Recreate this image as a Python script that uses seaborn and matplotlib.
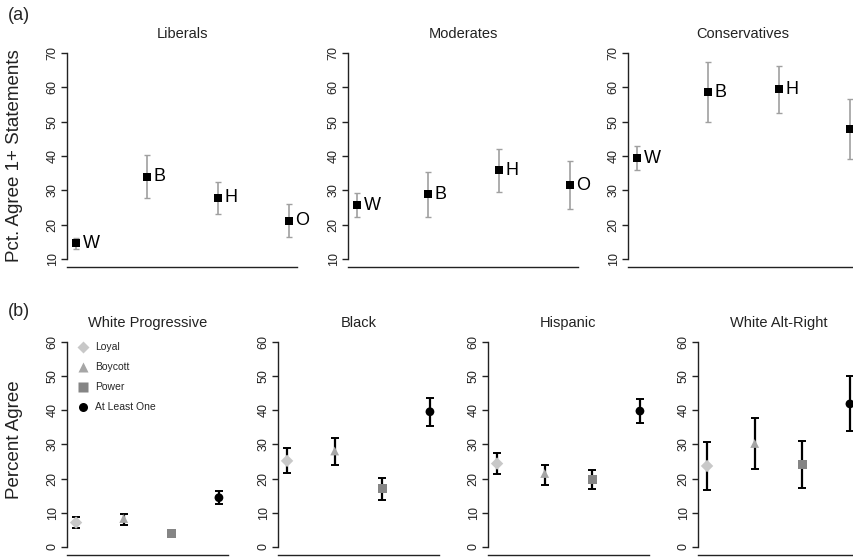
import matplotlib
matplotlib.use("Agg")
import matplotlib.pyplot as plt
import seaborn as sns
import pandas as pd
from matplotlib.lines import Line2D

sns.set_theme(style="white")
plt.rcParams['font.family'] = ['Liberation Sans', 'DejaVu Sans']

# ---------------- data: panel (a) ----------------
top_panels = ["Liberals", "Moderates", "Conservatives"]
top_groups = ["W", "B", "H", "O"]
top_est = {
    "Liberals":      [14.6, 34.0, 27.8, 21.1],
    "Moderates":     [25.6, 28.8, 35.9, 31.4],
    "Conservatives": [39.4, 58.6, 59.5, 47.8],
}
top_lo = {
    "Liberals":      [13.0, 27.6, 23.1, 16.3],
    "Moderates":     [22.1, 22.2, 29.6, 24.5],
    "Conservatives": [35.9, 49.9, 52.6, 39.2],
}
top_hi = {
    "Liberals":      [16.2, 40.3, 32.4, 25.9],
    "Moderates":     [29.2, 35.4, 42.0, 38.5],
    "Conservatives": [42.9, 67.4, 66.3, 56.6],
}
top_yticks = [10, 20, 30, 40, 50, 60, 70]

# ---------------- data: panel (b) ----------------
bot_panels = ["White Progressive", "Black", "Hispanic", "White Alt-Right"]
statements = ["Loyal", "Boycott", "Power", "At Least One"]
bot_est = {
    "White Progressive": [7.1, 8.3, 3.9, 14.4],
    "Black":             [25.2, 28.1, 17.0, 39.6],
    "Hispanic":          [24.4, 21.5, 19.7, 39.8],
    "White Alt-Right":   [23.7, 30.3, 24.1, 41.9],
}
bot_lo = {
    "White Progressive": [5.6, 6.5, 3.2, 12.5],
    "Black":             [21.5, 24.0, 13.8, 35.4],
    "Hispanic":          [21.4, 18.1, 16.9, 36.3],
    "White Alt-Right":   [16.8, 22.7, 17.1, 33.9],
}
bot_hi = {
    "White Progressive": [8.6, 9.6, 4.7, 16.5],
    "Black":             [29.0, 31.8, 20.2, 43.7],
    "Hispanic":          [27.4, 23.9, 22.4, 43.3],
    "White Alt-Right":   [30.6, 37.7, 31.0, 50.0],
}
bot_yticks = [0, 10, 20, 30, 40, 50, 60]

stmt_markers = {"Loyal": "D", "Boycott": "^", "Power": "s", "At Least One": "o"}
stmt_colors = {"Loyal": "#c8c8c8", "Boycott": "#a6a6a6", "Power": "#858585", "At Least One": "#000000"}

W, H = 854, 557
fig = plt.figure(figsize=(W / 100, H / 100), dpi=100)


def px_axes(left, right, top, bottom):
    return fig.add_axes([left / W, 1 - bottom / H, (right - left) / W, (bottom - top) / H])


def style_axes(ax, yticks, ylo, yhi):
    sns.despine(ax=ax, top=True, right=True)
    ax.spines['left'].set_bounds(yticks[0], yticks[-1])
    for s in ('left', 'bottom'):
        ax.spines[s].set_color('#222222')
        ax.spines[s].set_linewidth(1.0)
    ax.set_yticks(yticks)
    ax.set_yticklabels([str(t) for t in yticks], rotation=90, va='center', fontsize=9, color='#222222')
    ax.tick_params(axis='y', length=4, width=1.0, color='#222222', pad=2, left=True)
    ax.set_xticks([])
    ax.set_ylim(ylo, yhi)
    ax.set_xlabel("")
    ax.set_ylabel("")
    ax.grid(False)


# ---------- top row ----------
top_lefts = [67, 348, 628]
for i, name in enumerate(top_panels):
    ax = px_axes(top_lefts[i], top_lefts[i] + 230, 45, 267)
    df = pd.DataFrame({"x": [1, 2, 3, 4], "y": top_est[name], "g": top_groups})
    yerr = [[e - l for e, l in zip(top_est[name], top_lo[name])],
            [h - e for e, h in zip(top_est[name], top_hi[name])]]
    ax.errorbar(df["x"], df["y"], yerr=yerr, fmt='none', ecolor='#a0a0a0',
                elinewidth=1.2, capsize=2.5, capthick=1.0, zorder=2)
    sns.scatterplot(data=df, x="x", y="y", marker='s', color='black', s=36,
                    edgecolor='black', linewidth=0, ax=ax, zorder=3, legend=False)
    for xv, yv, g in zip(df["x"], df["y"], df["g"]):
        ax.text(xv + 0.09, yv, g, fontsize=13, va='center', ha='left', color='black', clip_on=False)
    ax.set_xlim(0.87, 4.12)
    style_axes(ax, top_yticks, 7.6, 72.4)
    ax.set_title(name, fontsize=10.5, pad=5, color='#222222')

fig.text(8 / W, 1 - 15 / H, "(a)", fontsize=13, va='center', ha='left')
fig.text(15 / W, 1 - 156 / H, "Pct. Agree 1+ Statements", fontsize=13.5, rotation=90,
         va='center', ha='center', color='#222222')

# ---------- bottom row ----------
bot_lefts = [67, 278, 488, 698]
for i, name in enumerate(bot_panels):
    ax = px_axes(bot_lefts[i], bot_lefts[i] + 161, 334, 555)
    df = pd.DataFrame({"x": [1, 2, 3, 4], "y": bot_est[name], "stmt": statements})
    yerr = [[e - l for e, l in zip(bot_est[name], bot_lo[name])],
            [h - e for e, h in zip(bot_est[name], bot_hi[name])]]
    ax.errorbar(df["x"], df["y"], yerr=yerr, fmt='none', ecolor='black',
                elinewidth=1.6, capsize=2.6, capthick=1.4, zorder=2)
    sns.scatterplot(data=df, x="x", y="y", hue="stmt", style="stmt",
                    markers=stmt_markers, palette=stmt_colors, s=40, linewidth=0,
                    ax=ax, zorder=3, legend=False)
    ax.set_xlim(0.81, 4.19)
    style_axes(ax, bot_yticks, -2.4, 62.4)
    ax.set_title(name, fontsize=10.5, pad=5, color='#222222')
    if i == 0:
        handles = [Line2D([0], [0], marker=stmt_markers[s], color='none',
                          markerfacecolor=stmt_colors[s], markeredgecolor='none',
                          markersize=6.5, label=s) for s in statements]
        ax.legend(handles=handles, loc='upper left', bbox_to_anchor=(0.02, 0.99),
                  frameon=False, fontsize=7.5, handletextpad=0.6, labelspacing=0.95,
                  handlelength=1.2, borderaxespad=0.2)

fig.text(8 / W, 1 - 312 / H, "(b)", fontsize=13, va='center', ha='left')
fig.text(15 / W, 1 - 440 / H, "Percent Agree", fontsize=13.5, rotation=90,
         va='center', ha='center', color='#222222')

fig.savefig("out.png", dpi=100, facecolor='white')
